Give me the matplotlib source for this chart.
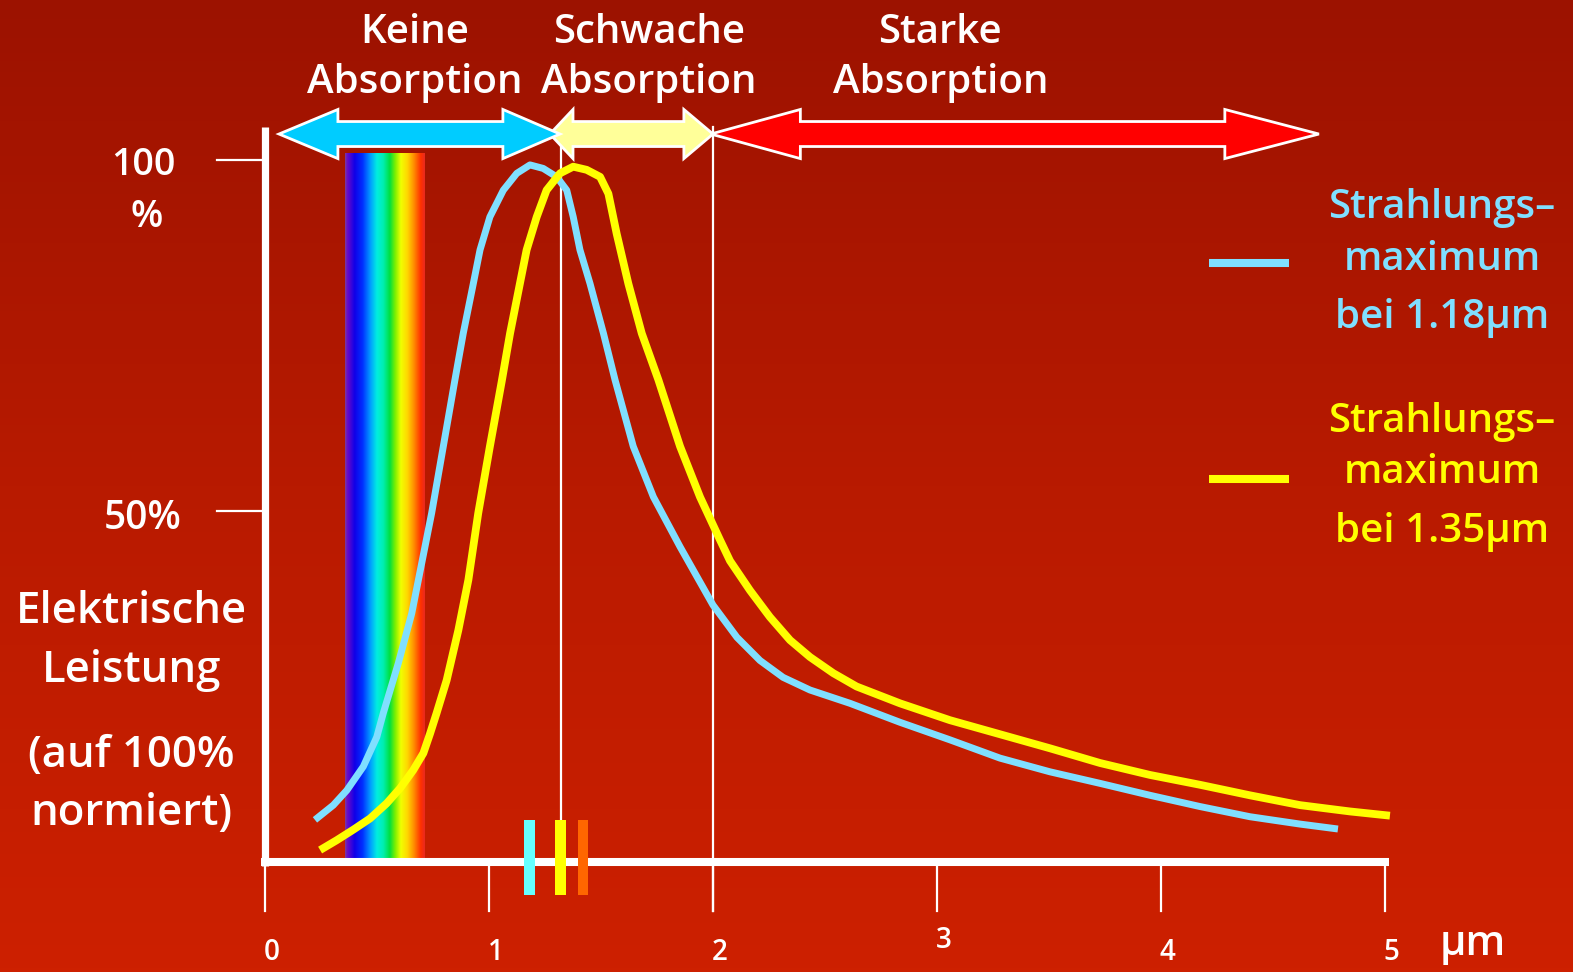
import numpy as np
import matplotlib
matplotlib.use("Agg")
import matplotlib.pyplot as plt
from matplotlib.colors import LinearSegmentedColormap
from matplotlib.patches import Polygon

plt.rcParams['font.family'] = ['Open Sans', 'DejaVu Sans']

# ---------------- data ----------------
# blue curve: maximum at 1.18 um
blue_x = [0.223, 0.305, 0.365, 0.439, 0.499, 0.528, 0.595, 0.655, 0.744, 0.796,
          0.848, 0.885, 0.930, 0.960, 1.004, 1.064, 1.124, 1.183, 1.242, 1.302,
          1.347, 1.376, 1.406, 1.451, 1.511, 1.5625, 1.644, 1.734, 1.853, 2.0,
          2.107, 2.210, 2.313, 2.433, 2.612, 2.835, 3.058, 3.281, 3.504, 3.728, 3.951,
          4.174, 4.397, 4.621, 4.79]
blue_y = [6.0, 8.1, 10.2, 13.6, 17.8, 21.2, 28.3, 35.4, 49.7, 59.2,
          68.7, 75.3, 82.4, 87.2, 91.9, 95.7, 98.1, 99.3, 98.8, 97.6,
          95.7, 91.9, 87.2, 82.4, 75.3, 68.7, 59.2, 52.0, 44.9, 36.6,
          32.0, 28.7, 26.3, 24.5, 22.6, 19.9, 17.4, 14.8, 12.85, 11.2, 9.5,
          7.9, 6.45, 5.4, 4.7]
# yellow curve: maximum at 1.35 um
yel_x = [0.246, 0.320, 0.394, 0.469, 0.543, 0.603, 0.662, 0.707, 0.737, 0.766,
         0.811, 0.863, 0.908, 0.952, 1.004, 1.057, 1.094, 1.138, 1.168, 1.213, 1.257,
         1.317, 1.376, 1.436, 1.496, 1.533, 1.570, 1.622, 1.682, 1.756, 1.853,
         1.942, 2.031, 2.076, 2.165, 2.254, 2.344, 2.433, 2.537, 2.641, 2.835, 3.058,
         3.281, 3.504, 3.728, 3.951, 4.174, 4.397, 4.621, 4.844, 5.022]
yel_y = [1.7, 3.1, 4.6, 6.2, 8.35, 10.5, 13.1, 15.5, 18.3, 21.2,
         25.9, 33.0, 40.2, 49.7, 59.2, 68.5, 75.3, 82.4, 87.2, 91.9, 95.7,
         98.1, 99.05, 98.6, 97.6, 95.2, 89.5, 82.4, 75.3, 68.7, 59.2,
         52.0, 45.9, 42.9, 38.7, 34.9, 31.6, 29.2, 26.9, 25.0, 22.6, 20.2,
         18.2, 16.2, 14.1, 12.4, 11.0, 9.5, 8.1, 7.2, 6.6]

x_ticks = [0, 1, 2, 3, 4, 5]
x_tick_labels = ['0', '1', '2', '3', '4', '5']
y_ticks = [100, 50]

# visible spectrum band (um)
spectrum_range = [0.357, 0.71]
# markers on x axis (um)
marker_x = [1.18, 1.32, 1.42]
marker_colors = ['#66ffff', '#ffff00', '#ff6600']
# vertical guide lines (um)
guide_x = [1.32, 2.0]

# absorption ranges (um): (left tip, right tip)
arrow_ranges = [(0.0625, 1.317), (1.272, 2.0), (1.99, 4.705)]
arrow_heads = [(0.263, 0.255), (0.103, 0.13), (0.40, 0.42)]
arrow_colors = ['#00ccff', '#ffff99', '#ff0000']
range_titles = [('Keine', 'Absorption'), ('Schwache', 'Absorption'), ('Starke', 'Absorption')]
range_title_x = [0.667, 1.715, 3.015]

legend_texts = [('Strahlungs–', 'maximum', 'bei 1.18µm'), ('Strahlungs–', 'maximum', 'bei 1.35µm')]
legend_colors = ['#80dfff', '#ffff00']

# ---------------- figure ----------------
W, H = 1573, 972
fig = plt.figure(figsize=(W / 100, H / 100), dpi=100)
ax = fig.add_axes([0, 0, 1, 1])
PX_X = 224.0   # px per um
PX_Y = 7.02    # px per %
x0, y0 = 265, 862
xlim = (-x0 / PX_X, (W - x0) / PX_X)
ylim = ((y0 - H) / PX_Y, y0 / PX_Y)
ax.set_xlim(*xlim)
ax.set_ylim(*ylim)
ax.axis('off')

# background gradient
bg = LinearSegmentedColormap.from_list('bg', ['#9c1200', '#b81a00', '#cd2000'])
grad = np.linspace(0, 1, 256).reshape(-1, 1)
ax.imshow(grad, extent=[xlim[0], xlim[1], ylim[0], ylim[1]], aspect='auto',
          cmap=bg, zorder=0, origin='upper')

# spectrum band
spec = LinearSegmentedColormap.from_list('spec', [
    (0.0, '#7a3a9a'), (0.03, '#6a0ac8'), (0.12, '#1000e8'), (0.22, '#0030ff'),
    (0.32, '#00a0ff'), (0.40, '#00eee0'), (0.48, '#00eeb0'), (0.56, '#00e040'),
    (0.63, '#80f000'), (0.70, '#f0ff00'), (0.78, '#ffd800'), (0.86, '#ff9000'),
    (0.95, '#ff3000'), (1.0, '#e82a20')])
ax.imshow(np.linspace(0, 1, 256).reshape(1, -1), extent=[spectrum_range[0], spectrum_range[1], 0, 100.9],
          aspect='auto', cmap=spec, zorder=1)

# guide lines
ax.plot([guide_x[0], guide_x[0]], [6, 104.7], color='white', lw=1.6, zorder=2)
ax.plot([guide_x[1], guide_x[1]], [-7.0, 104.7], color='white', lw=1.6, zorder=2)

# axes
ax.plot([0, 0], [-0.6, 104.7], color='white', lw=5.2, solid_capstyle='butt', zorder=5)
ax.plot([-0.02, 5.02], [0, 0], color='white', lw=5.8, solid_capstyle='butt', zorder=5)
for t in x_ticks:
    ax.plot([t, t], [0, -7.0], color='white', lw=1.6, zorder=5)
    ax.text(t + 0.03, -14.0 if t != 3 else -12.3, x_tick_labels[t], color='white', fontsize=20,
            fontweight='semibold', ha='center', va='baseline')
for t in y_ticks:
    ax.plot([-0.214, 0], [t, t], color='white', lw=1.6, zorder=5)
ax.text(-0.545, 97.8, '100', color='white', fontsize=27, fontweight='semibold', ha='center', va='baseline')
ax.text(-0.53, 90.5, '%', color='white', fontsize=27, fontweight='semibold', ha='center', va='baseline')
ax.text(-0.545, 47.5, '50%', color='white', fontsize=28, fontweight='semibold', ha='center', va='baseline')
ax.text(5.39, -13.2, 'µm', color='white', fontsize=30, fontweight='semibold', ha='center', va='baseline')

# y label
ylab = [('Elektrische', 34.0), ('Leistung', 25.6), ('(auf 100%', 13.5), ('normiert)', 5.3)]
for s, yy in ylab:
    ax.text(-0.595, yy, s, color='white', fontsize=31.5, fontweight='semibold', ha='center', va='baseline')

# curves
ax.plot(blue_x, blue_y, color='#80dfff', lw=5.0, solid_joinstyle='round', solid_capstyle='butt', zorder=4)
ax.plot(yel_x, yel_y, color='#ffff00', lw=5.6, solid_joinstyle='round', solid_capstyle='butt', zorder=4)

# markers on x axis
for mx, mc in zip(marker_x, marker_colors):
    ax.add_patch(plt.Rectangle((mx - 0.024, -4.7), 0.048, 10.7, facecolor=mc, edgecolor='none', zorder=6))

# arrows
yc, hs, hh = 103.7, 1.78, 3.5
order = [1, 2, 0]
for i in order:
    (xa, xb), (la, lb), c = arrow_ranges[i], arrow_heads[i], arrow_colors[i]
    pts = [(xa, yc), (xa + la, yc + hh), (xa + la, yc + hs), (xb - lb, yc + hs), (xb - lb, yc + hh),
           (xb, yc), (xb - lb, yc - hh), (xb - lb, yc - hs), (xa + la, yc - hs), (xa + la, yc - hh)]
    ax.add_patch(Polygon(pts, closed=True, facecolor=c, edgecolor='white', lw=2.0, zorder=7 + (i == 0)))

# range titles
for (a, b), tx in zip(range_titles, range_title_x):
    ax.text(tx, 116.7, a, color='white', fontsize=29, fontweight='semibold', ha='center', va='baseline')
    ax.text(tx, 109.5, b, color='white', fontsize=29, fontweight='semibold', ha='center', va='baseline')

# legend
leg_line_y = [85.3, 54.6]
leg_base = [(91.7, 84.3, 76.1), (61.3, 54.0, 45.6)]
for k in range(2):
    ax.plot([4.214, 4.571], [leg_line_y[k], leg_line_y[k]], color=legend_colors[k], lw=5.8,
            solid_capstyle='butt', zorder=5)
    for s, yy in zip(legend_texts[k], leg_base[k]):
        ax.text(5.254, yy, s, color=legend_colors[k], fontsize=29, fontweight='semibold',
                ha='center', va='baseline')

fig.savefig('out.png', dpi=100)
